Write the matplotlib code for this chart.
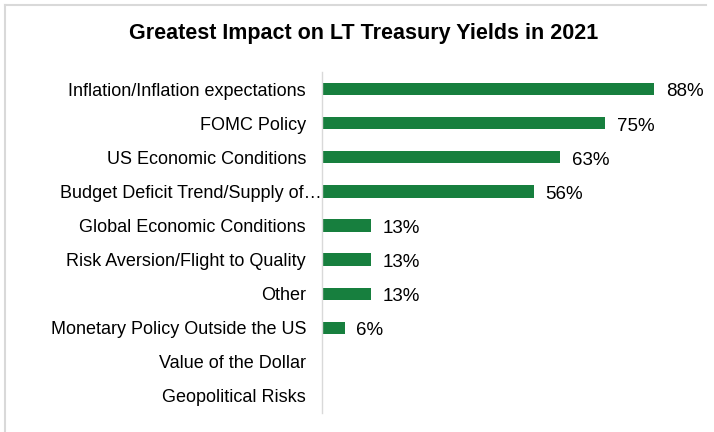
import matplotlib
matplotlib.use("Agg")
import matplotlib.pyplot as plt
from matplotlib.lines import Line2D
from matplotlib.transforms import ScaledTranslation

plt.rcParams['font.family'] = ['Liberation Sans', 'DejaVu Sans']

categories = [
    "Inflation/Inflation expectations",
    "FOMC Policy",
    "US Economic Conditions",
    "Budget Deficit Trend/Supply of\u2026",
    "Global Economic Conditions",
    "Risk Aversion/Flight to Quality",
    "Other",
    "Monetary Policy Outside the US",
    "Value of the Dollar",
    "Geopolitical Risks",
]
values = [88, 75, 63, 56, 13, 13, 13, 6, 0, 0]

green = '#177F3E'
grey = '#D9D9D9'

fig = plt.figure(figsize=(7.14, 4.32), dpi=100)
ax = fig.add_axes([0.451, 0.044, 0.529, 0.789])

pos = list(range(len(categories)))
ax.barh(pos, values, height=0.36, color=green)
ax.set_ylim(len(categories) - 0.5, -0.5)
ax.set_xlim(0, 100)

for p, v in zip(pos, values):
    if v > 0:
        ax.annotate(f"{v}%", (v, p), xytext=(8.5, -2), textcoords='offset points',
                    va='center', ha='left', fontsize=13.5, color='#000000')

ax.set_yticks(pos)
ax.set_yticklabels(categories, fontsize=13, color='#000000')
ax.tick_params(axis='y', length=0, pad=11.5)
ax.set_xticks([])

# the truncated label runs up to the axis line
lbl = ax.get_yticklabels()[3]
lbl.set_transform(lbl.get_transform() + ScaledTranslation(0.16, 0, fig.dpi_scale_trans))

for side in ['top', 'right', 'bottom']:
    ax.spines[side].set_visible(False)
ax.spines['left'].set_color(grey)
ax.spines['left'].set_linewidth(1.0)

fig.text(0.509, 0.922, "Greatest Impact on LT Treasury Yields in 2021",
         ha='center', va='center', fontsize=15.5, fontweight='bold')

# frame along the top and left edges
fig.add_artist(Line2D([4.5 / 714, 4.5 / 714], [0, 1 - 4.5 / 432], color=grey, lw=1.5))
fig.add_artist(Line2D([4.5 / 714, 706 / 714], [1 - 4.5 / 432, 1 - 4.5 / 432], color=grey, lw=1.5))

fig.savefig("out.png", dpi=100)
